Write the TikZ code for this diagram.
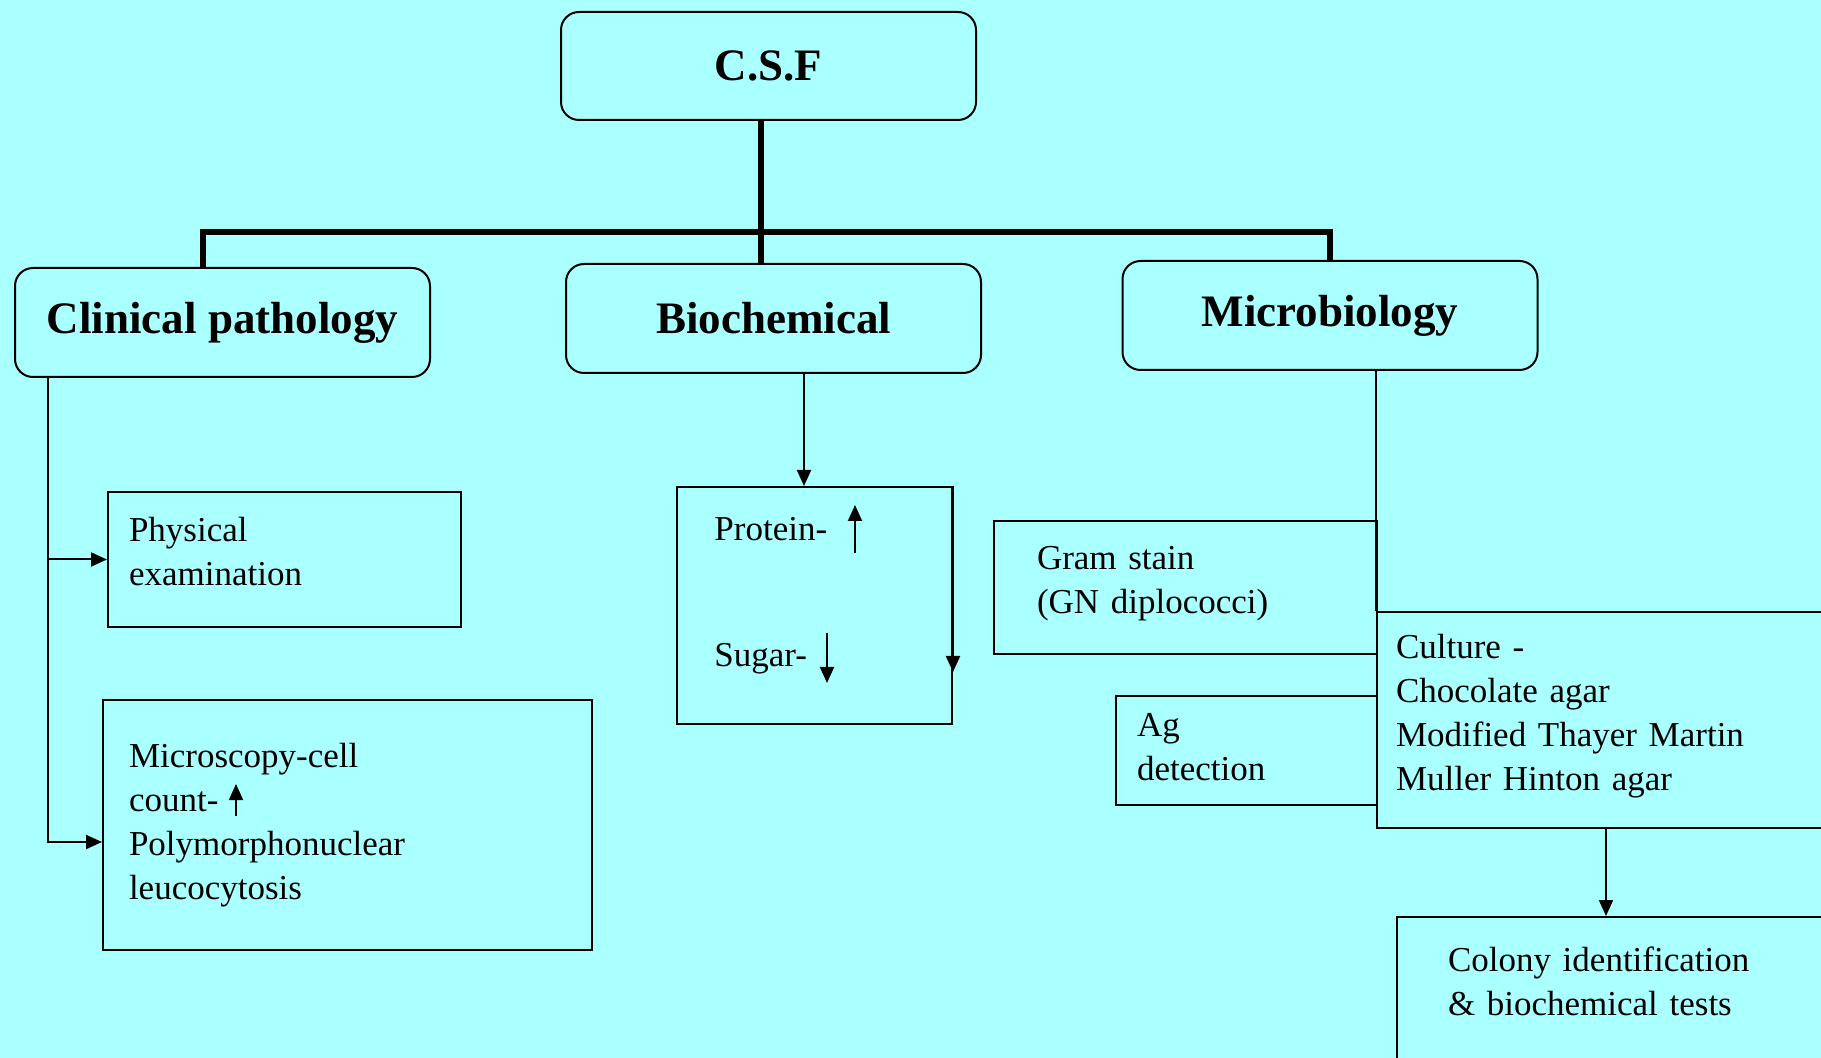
\documentclass[tikz,border=0pt]{standalone}
\usepackage{fontspec}
\setmainfont{Liberation Serif}
\usetikzlibrary{arrows.meta,positioning}
\definecolor{csfbg}{RGB}{170,255,255}
\newcommand\headfnt{\fontsize{22.5}{27}\selectfont\bfseries}
\newcommand\bodyfnt{\fontsize{17.5}{22}\selectfont}
\newcommand\dropstrut[1]{\rule[-#1]{0pt}{#1}}
\tikzset{
  head/.style={draw, rounded corners=9pt, line width=1pt, minimum width=207.5pt, minimum height=54.5pt, font=\headfnt},
  info/.style={draw, line width=1pt, align=left, font=\bodyfnt},
  txt/.style={font=\bodyfnt, inner sep=0pt},
  trunk/.style={line width=3.2pt},
  link/.style={line width=1pt},
  feed/.style={line width=1pt, -{Triangle[length=8pt,width=7pt]}},
}
\begin{document}
\begin{tikzpicture}[x=0.5pt,y=-0.5pt]
    \fill[csfbg] (0,0) rectangle (1821,1058);
    \useasboundingbox (0,0) rectangle (1821,1058);
    \clip (0,0) rectangle (1821,1058);

    % top level
    \node [head, minimum height=54pt] (csf) at (768.5,66) {C.S.F};
    \node [head] (clin) at (222.5,322.5) {Clinical pathology};
    \node [head] (bio) at (773.5,318.5) {Biochemical};
    \node [head] (micro) at (1330,315.5) {Microbiology};
    \coordinate (bar) at (761,232);

    \draw[trunk] ([xshift=-3.75pt]csf.south) -- ([xshift=-3.75pt]csf.south |- bio.north);
    \draw[trunk] ([xshift=-9.75pt]clin.north) |- (bar) -| (micro.north);

    % clinical pathology
    \node [info, text width=155.5pt, inner xsep=10.5pt, minimum height=67.5pt] (phys) at (284.5,559.5) {Physical\\examination\dropstrut{8pt}};
    \node [info, text width=218.5pt, inner xsep=13pt, minimum height=125pt] (mic) at (347.5,825) {Microscopy-cell\\count-\\Polymorphonuclear\\leucocytosis};
    \draw[feed] ([xshift=17pt]clin.south west) |- (phys.west);
    \draw[feed] ([xshift=17pt]clin.south west) |- ([yshift=-8.5pt]mic.west);
    \draw[feed] (236,816) -- (236,784);

    % biochemical
    \node [draw, line width=1pt, minimum width=137.5pt, minimum height=118.5pt] (prot) at (814.5,605.5) {};
    \node [txt, anchor=base west] (protxt) at (714,541) {Protein-};
    \node [txt, anchor=base west] (sugtxt) at (714,667) {Sugar-};
    \draw[feed] (bio.south -| 804,0) -- (prot.north -| 804,0);
    \draw[feed] (prot.north east) -- (prot.north east |- 0,672);
    \draw[feed] (855,553) -- (855,505);
    \draw[feed] (827,633) -- (827,683);

    % microbiology
    \node [info, text width=148.5pt, inner xsep=21.5pt, minimum height=66.5pt] (gram) at (1185.5,587.5) {Gram stain\\(GN diplococci)\dropstrut{7.5pt}};
    \node [info, text width=109.5pt, inner xsep=10.5pt, minimum height=54.5pt] (ag) at (1246.5,750.5) {Ag\\detection\dropstrut{3.5pt}};
    \node [info, text width=210pt, inner xsep=9.5pt, minimum height=108pt] (cult) at (1606,720) {Culture -\\Chocolate agar\\Modified Thayer Martin\\Muller Hinton agar\dropstrut{7.5pt}};
    \node [info, text width=171pt, inner xsep=25.5pt, inner ysep=15pt, anchor=north west] (colony) at (1396,916) {Colony identification\\\& biochemical tests\dropstrut{40pt}};

    \draw[link] (cult.north west |- micro.south) -- (cult.north west);
    \draw[feed] (cult.south) -- (cult.south |- colony.north);
\end{tikzpicture}
\end{document}
